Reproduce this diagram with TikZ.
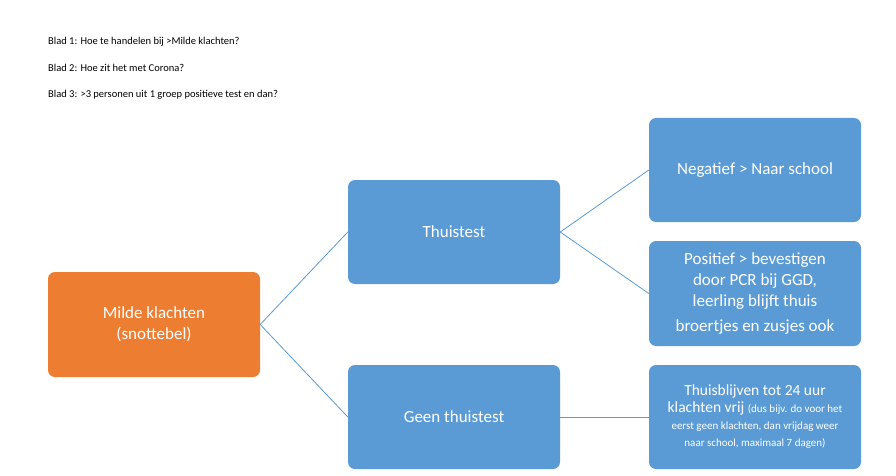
\documentclass[tikz,border=0pt]{standalone}
\usepackage{fontspec}
\setmainfont{Carlito}
\definecolor{ob}{HTML}{5B9BD5}
\definecolor{oo}{HTML}{ED7D31}
\begin{document}
\begin{tikzpicture}[x=1pt,y=-1pt,
 box/.style={draw=none,fill=ob,rounded corners=7pt,minimum width=212pt,minimum height=104pt,text=white,align=center,font=\fontsize{17}{21}\selectfont,inner sep=2pt},
 ln/.style={draw=ob,line width=0.8pt},
 hd/.style={anchor=west,font=\fontsize{10.5}{12}\selectfont,inner sep=0pt}]
\useasboundingbox[fill=white] (0,0) rectangle (896,476);
\node[hd] (h1) at (48,42) {Blad 1: Hoe te handelen bij >Milde klachten?};
\node[hd] (h2) at (48,68) {Blad 2: Hoe zit het met Corona?};
\node[hd] (h3) at (48,95) {Blad 3: >3 personen uit 1 groep positieve test en dan?};
\node[box,fill=oo,minimum height=105pt] (m) at (154,324.5) {Milde klachten\\(snottebel)};
\node[box] (t) at (454,232) {Thuistest};
\node[box] (g) at (454,417) {Geen thuistest};
\node[box] (n) at (755,170) {Negatief > Naar school};
\node[box,minimum height=105pt] (p) at (755,293.5) {Positief > bevestigen\\door PCR bij GGD,\\leerling blijft thuis\\[4pt]broertjes en zusjes ook};
\node[box,font=\fontsize{15.5}{17}\selectfont] (b) at (755,417) {Thuisblijven tot 24 uur\\klachten vrij {\fontsize{11}{14}\selectfont(dus bijv. do voor het}\\{\fontsize{11}{14}\selectfont eerst geen klachten, dan vrijdag weer}\\{\fontsize{11}{18}\selectfont naar school, maximaal 7 dagen)}};
\draw[ln] (m.east) -- (t.west);
\draw[ln] (m.east) -- (g.west);
\draw[ln] (t.east) -- (n.west);
\draw[ln] (t.east) -- (p.west);
\draw[ln] (g.east) -- (b.west);
\end{tikzpicture}
\end{document}
